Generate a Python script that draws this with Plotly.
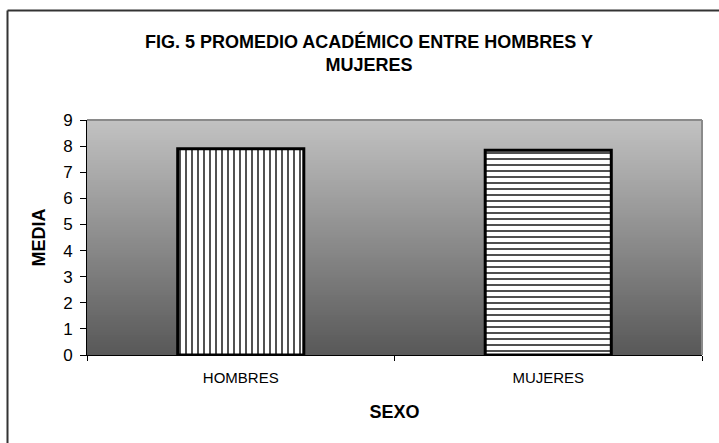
import plotly.graph_objects as go

categories = ["HOMBRES", "MUJERES"]
values = [7.9, 7.84]
patterns = ["|", "-"]
y_ticks = list(range(0, 10))

W, H = 719, 443
L, R, T, B = 87, 17, 120, 88
pw, ph = W - L - R, H - T - B

fig = go.Figure()
for cat, val, pat in zip(categories, values, patterns):
    fig.add_trace(go.Bar(
        x=[cat], y=[val], name=cat, showlegend=False,
        marker=dict(color="white", line=dict(color="black", width=3),
                    pattern=dict(shape=pat, fgcolor="#505050", bgcolor="white",
                                 size=6, solidity=0.33, fillmode="replace")),
    ))

shapes = []
n = 94
top_c, bot_c = 194, 88
for i in range(n):
    f0, f1 = i / n, (i + 1) / n
    c = round(bot_c + (top_c - bot_c) * (f0 + f1) / 2)
    shapes.append(dict(type="rect", xref="paper", yref="paper", x0=0, x1=1,
                       y0=f0, y1=f1 + 0.002, fillcolor=f"rgb({c},{c},{c})",
                       line=dict(width=0), layer="below"))
# plot area gray border (top and right)
shapes.append(dict(type="line", xref="paper", yref="paper", x0=0, x1=1, y0=1, y1=1,
                   line=dict(color="#8a8a8a", width=2), layer="above"))
shapes.append(dict(type="line", xref="paper", yref="paper", x0=1, x1=1, y0=0, y1=1,
                   line=dict(color="#8a8a8a", width=2), layer="above"))
# outer chart frame (only top and left edges visible)
fx0 = (7.5 - L) / pw
fy1 = (H - B - 10.5) / ph
shapes.append(dict(type="line", xref="paper", yref="paper", x0=fx0, x1=(W - L) / pw,
                   y0=fy1, y1=fy1, line=dict(color="#333333", width=2), layer="above"))
shapes.append(dict(type="line", xref="paper", yref="paper", x0=fx0, x1=fx0,
                   y0=-B / ph, y1=fy1, line=dict(color="#333333", width=2), layer="above"))

fig.update_layout(
    width=W, height=H,
    margin=dict(l=L, r=R, t=T, b=B),
    paper_bgcolor="white", plot_bgcolor="#8c8c8c",
    bargap=0.59,
    shapes=shapes,
    font=dict(family="Liberation Sans, Arial, sans-serif", color="black"),
    title=dict(text="<b>FIG. 5 PROMEDIO ACADÉMICO ENTRE HOMBRES Y<br>MUJERES</b>",
               xref="paper", x=(369 - L) / pw, xanchor="center",
               yref="container", y=1 - 48 / H, yanchor="middle",
               font=dict(size=18)),
    xaxis=dict(
        type="category", showline=True, linecolor="black", linewidth=1,
        ticks="outside", ticklen=5, tickcolor="black", tickson="boundaries",
        tickfont=dict(size=15), ticklabelstandoff=9,
        title=dict(text="<b>SEXO</b>", font=dict(size=18), standoff=20),
        showgrid=False, zeroline=False,
    ),
    yaxis=dict(
        range=[0, 9], tickvals=y_ticks, showline=True, linecolor="black", linewidth=1,
        ticks="outside", ticklen=6, tickcolor="black",
        tickfont=dict(size=17), ticklabelstandoff=4,
        title=dict(text="<b>MEDIA</b>", font=dict(size=18), standoff=12),
        automargin=True,
        showgrid=False, zeroline=False,
    ),
)

fig.write_html("out.html")
